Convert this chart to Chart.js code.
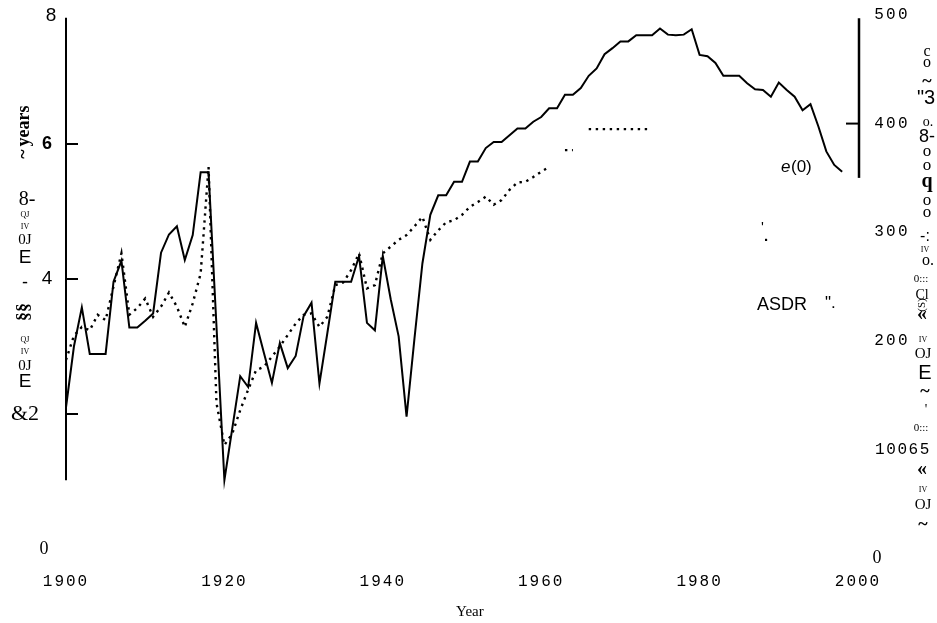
<!DOCTYPE html>
<html>
<head>
<meta charset="utf-8">
<script src="https://cdn.jsdelivr.net/npm/chart.js@4.4.0/dist/chart.umd.min.js"></script>
<style>
html, body { margin: 0; padding: 0; background: #fff; }
canvas { display: block; }
</style>
</head>
<body>
<canvas id="chart" width="937" height="623"></canvas>
<script>
// e(0), solid line, one value per year 1900-1998
const e0Years = [1900,1901,1902,1903,1904,1905,1906,1907,1908,1909,1910,1911,1912,1913,1914,1915,1916,1917,1918,1919,
  1920,1921,1922,1923,1924,1925,1926,1927,1928,1929,1930,1931,1932,1933,1934,1935,1936,1937,1938,1939,
  1940,1941,1942,1943,1944,1945,1946,1947,1948,1949,1950,1951,1952,1953,1954,1955,1956,1957,1958,1959,
  1960,1961,1962,1963,1964,1965,1966,1967,1968,1969,1970,1971,1972,1973,1974,1975,1976,1977,1978,1979,
  1980,1981,1982,1983,1984,1985,1986,1987,1988,1989,1990,1991,1992,1993,1994,1995,1996,1997,1998];
const e0Values = [2.10,3.00,3.58,2.89,2.89,2.89,3.96,4.27,3.28,3.28,3.38,3.49,4.39,4.66,4.78,4.28,4.65,5.58,5.58,3.30,
  1.02,1.79,2.56,2.40,3.35,2.90,2.46,3.05,2.68,2.86,3.45,3.65,2.45,3.20,3.96,3.96,3.96,4.34,3.35,3.24,
  4.34,3.70,3.15,1.96,3.12,4.23,4.95,5.24,5.24,5.44,5.44,5.74,5.74,5.94,6.03,6.03,6.13,6.23,6.23,6.33,
  6.40,6.53,6.53,6.73,6.73,6.83,7.01,7.12,7.33,7.42,7.52,7.52,7.61,7.61,7.61,7.71,7.62,7.61,7.62,7.70,
  7.32,7.30,7.20,7.01,7.01,7.01,6.90,6.81,6.80,6.70,6.91,6.80,6.70,6.50,6.59,6.26,5.89,5.69,5.59];

// ASDR, dotted line (gaps where the print breaks up)
const asdrYears = [1900,1901,1902,1903,1904,1905,1906,1907,1908,1909,1910,1911,1912,1913,1914,1915,1916,1917,1918,1919,
  1920,1921,1922,1923,1924,1925,1926,1927,1928,1929,1930,1931,1932,1933,1934,1935,1936,1937,1938,1939,
  1940,1941,1942,1943,1944,1945,1946,1947,1948,1949,1950,1951,1952,1953,1954,1955,1956,1957,1958,1959,
  1960,1961,1962,1963,1964,1965,1966,1967,1968,1969,1970,1971,1972,1973,1973.5];
const asdrValues = [2.80,3.16,3.29,3.24,3.47,3.39,3.89,4.38,3.47,3.57,3.71,3.44,3.59,3.80,3.59,3.29,3.64,4.08,5.66,2.16,
  1.54,1.71,2.06,2.36,2.65,2.70,2.85,3.00,3.17,3.34,3.47,3.49,3.29,3.44,3.91,3.95,4.13,4.38,3.86,3.91,
  4.38,4.48,4.58,4.65,4.78,4.92,4.58,4.72,4.84,4.87,4.95,5.07,5.14,5.22,5.10,5.17,5.32,5.43,5.44,5.51,
  5.59,5.66,null,5.91,5.91,null,6.22,6.22,6.22,6.22,6.22,6.22,6.22,6.22,6.22];

// tick labels
const yearTicks = [1900, 1920, 1940, 1960, 1980, 2000];
const leftTicks = [8, 6, 4, 2, 0];
const leftTickText = ['8', '6', '4', '&2', '0'];
const leftTickMarks = [6, 4, 2];
const rightTicks = [500, 400, 300, 200, 100, 0];
const rightTickText = ['500', '400', '300', '200', '10065', '0'];
const rightTickMarks = [400];

// scanned axis-title fragments, kept as they appear in the picture
const SERIF = '"Liberation Serif", "Times New Roman", serif';
const SANS = '"Liberation Sans", Arial, sans-serif';
const leftFragments = [
  ['8-', 27, 200, '20px ' + SERIF],
  ['QJ', 25, 215, '8px ' + SERIF],
  ['IV', 25, 227, '8px ' + SERIF],
  ['0J', 25, 240, '15px ' + SERIF],
  ['E', 25, 258, '19px ' + SANS],
  ['-', 25, 283, '18px ' + SANS],
  ['QJ', 25, 340, '8px ' + SERIF],
  ['IV', 25, 352, '8px ' + SERIF],
  ['0J', 25, 366, '15px ' + SERIF],
  ['E', 25, 382, '19px ' + SANS]
];
const rightFragments = [
  ['c', 927, 52, '16px ' + SERIF], ['o', 927, 63, '16px ' + SERIF],
  ['~', 927, 82, 'bold 18px ' + SERIF], ['"3', 926, 98, '20px ' + SANS],
  ['o.', 928, 122, '14px ' + SERIF], ['8-', 927, 137, '18px ' + SANS],
  ['o', 927, 152, '17px ' + SERIF], ['o', 927, 166, '17px ' + SERIF],
  ['q', 927, 182, 'bold 20px ' + SERIF], ['o', 927, 201, '17px ' + SERIF],
  ['o', 927, 213, '17px ' + SERIF], ['-:', 925, 237, '16px ' + SANS],
  ['IV', 925, 250, '8px ' + SERIF], ['o.', 928, 261, '16px ' + SERIF],
  ['0:::', 921, 279, '11px ' + SERIF], ['Cl', 922, 295, '14px ' + SERIF],
  ['«', 922, 315, 'bold 20px ' + SERIF],
  ['IV', 923, 340, '8px ' + SERIF], ['OJ', 923, 354, '15px ' + SERIF],
  ['E', 925, 373, '20px ' + SANS], ['~', 925, 392, 'bold 18px ' + SERIF],
  ["'", 926, 410, '14px ' + SERIF], ['0:::', 921, 428, '11px ' + SERIF],
  ['«', 922, 470, 'bold 20px ' + SERIF], ['IV', 923, 490, '8px ' + SERIF],
  ['OJ', 923, 505, '15px ' + SERIF], ['~', 923, 525, 'bold 18px ' + SERIF]
];
// rotated fragments: text, x, y, font
const rotatedFragments = [
  ['years', 24, 126, 'bold 18px ' + SERIF],
  ['~', 24, 154, 'bold 18px ' + SERIF],
  ['§§', 24, 312, 'bold 18px ' + SERIF],
  ['(S)', 922, 305, '11px ' + SERIF]
];

function toPoints(xs, ys) {
  return xs.map((x, i) => ({ x: x, y: ys[i] }));
}

function text(ctx, s, x, y, font, spacing) {
  ctx.font = font;
  ctx.letterSpacing = spacing || '0px';
  ctx.fillText(s, x, y);
  ctx.letterSpacing = '0px';
}

const axesPlugin = {
  id: 'scanAxes',
  afterDraw(chart) {
    const ctx = chart.ctx;
    const xs = chart.scales.x, yl = chart.scales.y, yr = chart.scales.y2;
    const xl = xs.getPixelForValue(1900), xr = xs.getPixelForValue(2000);
    ctx.save();
    ctx.strokeStyle = '#000';
    ctx.fillStyle = '#000';

    // left axis, partial as printed
    ctx.lineWidth = 2;
    ctx.beginPath();
    ctx.moveTo(xl, yl.getPixelForValue(7.87));
    ctx.lineTo(xl, yl.getPixelForValue(1.02));
    ctx.stroke();
    for (const t of leftTickMarks) {
      const py = yl.getPixelForValue(t);
      ctx.beginPath(); ctx.moveTo(xl, py); ctx.lineTo(xl + 12, py); ctx.stroke();
    }
    // right axis, partial as printed
    ctx.lineWidth = 2.5;
    ctx.beginPath();
    ctx.moveTo(xr + 1, yr.getPixelForValue(497));
    ctx.lineTo(xr + 1, yr.getPixelForValue(350));
    ctx.stroke();
    ctx.lineWidth = 2;
    for (const t of rightTickMarks) {
      const py = yr.getPixelForValue(t);
      ctx.beginPath(); ctx.moveTo(xr + 1, py); ctx.lineTo(xr - 12, py); ctx.stroke();
    }

    ctx.textAlign = 'center';
    ctx.textBaseline = 'middle';
    // left tick labels
    leftTicks.forEach((t, i) => {
      const py = yl.getPixelForValue(t);
      const s = leftTickText[i];
      if (s === '&2') text(ctx, s, 25, py, '22px ' + SERIF);
      else if (s === '0') text(ctx, s, 44, py, '18px ' + SERIF);
      else if (s === '8') text(ctx, s, 51, yl.getPixelForValue(7.9), '19px ' + SANS);
      else if (s === '6') text(ctx, s, 47, py, 'bold 18px ' + SANS);
      else text(ctx, s, 47, py, '19px ' + SANS);
    });
    // right tick labels
    rightTicks.forEach((t, i) => {
      const py = yr.getPixelForValue(t);
      const s = rightTickText[i];
      if (s === '0') text(ctx, s, 877, py, '18px ' + SERIF);
      else if (s === '10065') text(ctx, s, 903, py, '16px "Liberation Mono", monospace', '1.6px');
      else text(ctx, s, 892, py, '16px "Liberation Mono", monospace', '2.2px');
    });
    // year labels
    yearTicks.forEach(t => {
      text(ctx, String(t), xs.getPixelForValue(t), 582, '16px "Liberation Mono", monospace', '2px');
    });
    text(ctx, 'Year', xs.getPixelForValue(1951), 612, '15px ' + SERIF);

    // axis title fragments
    for (const f of rotatedFragments) {
      ctx.save();
      ctx.translate(f[1], f[2]);
      ctx.rotate(-Math.PI / 2);
      text(ctx, f[0], 0, 0, f[3]);
      ctx.restore();
    }
    for (const f of leftFragments) text(ctx, f[0], f[1], f[2], f[3]);
    for (const f of rightFragments) text(ctx, f[0], f[1], f[2], f[3]);

    // series labels
    ctx.textAlign = 'left';
    text(ctx, 'e', 781, 167, 'italic 17px ' + SANS);
    text(ctx, '(0)', 791, 167, '17px ' + SANS);
    text(ctx, 'ASDR', 757, 305, '18px ' + SANS);
    text(ctx, '".', 825, 303, '17px ' + SANS);
    text(ctx, "'", 761, 228, '15px ' + SANS);
    text(ctx, '.', 764, 237, 'bold 15px ' + SANS);
    ctx.restore();
  }
};

new Chart(document.getElementById('chart'), {
  type: 'line',
  data: {
    datasets: [
      {
        label: 'e(0)',
        data: toPoints(e0Years, e0Values),
        borderColor: '#000',
        borderWidth: 2,
        pointRadius: 0,
        tension: 0,
        yAxisID: 'y'
      },
      {
        label: 'ASDR',
        data: toPoints(asdrYears, asdrValues),
        borderColor: '#000',
        borderWidth: 2.4,
        borderDash: [2.4, 4.6],
        pointRadius: 0,
        tension: 0,
        spanGaps: false,
        yAxisID: 'y'
      }
    ]
  },
  options: {
    responsive: false,
    animation: false,
    devicePixelRatio: 1,
    layout: { padding: { left: 66, right: 79, top: 9, bottom: 74 } },
    plugins: { legend: { display: false }, tooltip: { enabled: false } },
    scales: {
      x: { type: 'linear', min: 1900, max: 2000, display: false },
      y: { type: 'linear', min: 0, max: 8, display: false },
      y2: { type: 'linear', min: 8.3, max: 505.5, display: false, position: 'right' }
    }
  },
  plugins: [axesPlugin]
});
</script>
</body>
</html>
